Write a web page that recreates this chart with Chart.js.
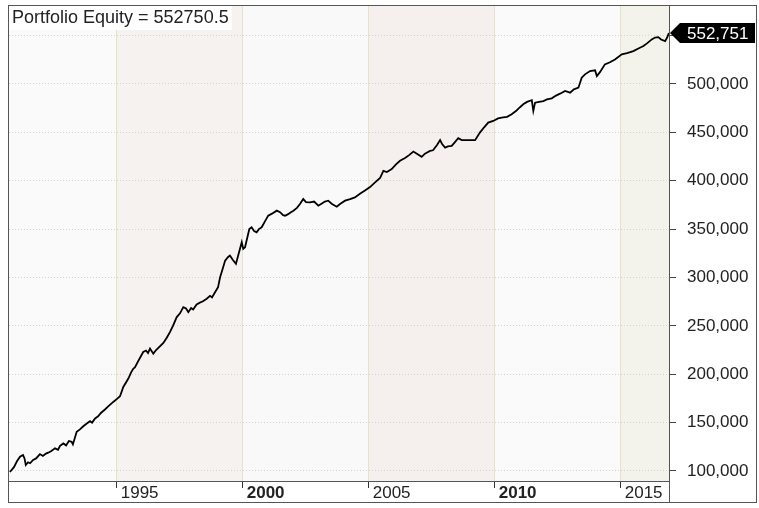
<!DOCTYPE html>
<html>
<head>
<meta charset="utf-8">
<script src="https://cdn.jsdelivr.net/npm/chart.js@4.4.1/dist/chart.umd.min.js"></script>
<style>
  html, body { margin: 0; padding: 0; background: #fff; }
  canvas { display: block; }
</style>
</head>
<body>
<canvas id="equity" width="759" height="508"></canvas>
<script>
// equity curve (decimal year, portfolio value)
const years = [
  1990.79, 1990.95, 1991.07, 1991.19, 1991.31, 1991.37, 1991.42, 1991.51, 1991.59, 1991.71,
  1991.83, 1991.98, 1992.10, 1992.22, 1992.31, 1992.42, 1992.58, 1992.70, 1992.78, 1992.91,
  1993.02, 1993.13, 1993.24, 1993.29, 1993.44, 1993.57, 1993.69, 1993.84, 1993.97, 1994.05,
  1994.17, 1994.29, 1994.40, 1994.56, 1994.68, 1994.89, 1995.04, 1995.16, 1995.29, 1995.49,
  1995.60, 1995.69, 1995.75, 1995.87, 1996.08, 1996.19, 1996.27, 1996.35, 1996.48, 1996.59,
  1996.75, 1996.88, 1997.02, 1997.14, 1997.26, 1997.41, 1997.54, 1997.67, 1997.78, 1997.87,
  1997.98, 1998.06, 1998.20, 1998.33, 1998.45, 1998.60, 1998.73, 1998.81, 1998.93, 1999.05,
  1999.13, 1999.21, 1999.33, 1999.44, 1999.52, 1999.64, 1999.76, 1999.84, 1999.99, 2000.05,
  2000.12, 2000.20, 2000.29, 2000.38, 2000.48, 2000.58, 2000.67, 2000.78, 2000.91, 2001.04,
  2001.19, 2001.38, 2001.51, 2001.63, 2001.71, 2001.83, 2001.94, 2002.04, 2002.18, 2002.30,
  2002.43, 2002.54, 2002.70, 2002.86, 2003.03, 2003.17, 2003.29, 2003.42, 2003.57, 2003.76,
  2003.89, 2004.09, 2004.29, 2004.48, 2004.68, 2004.88, 2005.08, 2005.28, 2005.48, 2005.61,
  2005.75, 2005.94, 2006.11, 2006.27, 2006.47, 2006.63, 2006.80, 2006.94, 2007.13, 2007.26,
  2007.46, 2007.58, 2007.74, 2007.86, 2007.94, 2008.06, 2008.17, 2008.32, 2008.45, 2008.58,
  2008.72, 2008.97, 2009.25, 2009.44, 2009.60, 2009.77, 2009.97, 2010.16, 2010.36, 2010.52,
  2010.70, 2010.87, 2011.03, 2011.16, 2011.31, 2011.50, 2011.56, 2011.63, 2011.79, 2011.96,
  2012.10, 2012.29, 2012.46, 2012.62, 2012.82, 2013.02, 2013.17, 2013.35, 2013.48, 2013.61,
  2013.81, 2014.01, 2014.08, 2014.21, 2014.40, 2014.60, 2014.80, 2015.07, 2015.28, 2015.53,
  2015.71, 2015.93, 2016.07, 2016.26, 2016.39, 2016.52, 2016.63, 2016.79, 2016.87, 2016.94
];
const equity = [
  99000, 104000, 110000, 114700, 116500, 113000, 106200, 109000, 108000, 111500,
  113000, 117500, 115500, 118000, 118900, 120500, 123400, 122000, 126000, 128500,
  126500, 131000, 130200, 127500, 140500, 143000, 146000, 149100, 151500, 150000,
  154300, 156500, 160000, 163600, 166500, 171400, 174500, 177300, 186900, 195600,
  202000, 205900, 207000, 213000, 223000, 224500, 222000, 226500, 221300, 225000,
  229000, 232300, 238000, 243600, 250000, 259100, 263000, 269400, 268000, 264200,
  268500, 267000, 272200, 274000, 275500, 278000, 281000, 279500, 284800, 290000,
  300300, 307000, 317500, 321000, 322700, 318000, 314100, 322000, 336400, 329600,
  331200, 340000, 350200, 351900, 348000, 346700, 350000, 351900, 358000, 363900,
  366000, 369100, 367500, 364500, 363900, 365500, 367500, 369100, 372000, 376000,
  381100, 378000, 377600, 378500, 374200, 376500, 378500, 379400, 376000, 373200,
  376000, 379400, 381000, 382800, 386500, 390000, 393500, 398300, 403000, 410300,
  409000, 412000, 417000, 420600, 423500, 426500, 430200, 428000, 424700, 428000,
  430900, 431500, 437000, 442000, 438000, 434300, 435500, 436100, 440000, 444000,
  442000, 442000, 442000, 449800, 455000, 460100, 461800, 464500, 465500, 466000,
  468700, 472000, 476000, 479000, 481500, 483200, 472200, 480700, 481500, 482400,
  484000, 485200, 488000, 490000, 492800, 491000, 494500, 496200, 506500, 510000,
  513400, 514100, 508200, 512500, 520300, 522500, 525400, 530600, 532000, 534000,
  536500, 539200, 542000, 546100, 548000, 548500, 546000, 544300, 548000, 552750.5
];

const xTicks = [1995, 2000, 2005, 2010, 2015];
const yTicks = [100000, 150000, 200000, 250000, 300000, 350000, 400000, 450000, 500000, 550000];

const titleText = 'Portfolio Equity = 552750.5';
const lastLabel = '552,751';

// alternating 5-year background bands
const bandStarts = [1990, 1995, 2000, 2005, 2010, 2015];
const bandEnds = [1995, 2000, 2005, 2010, 2015, 2020];
const bandColors = ['#fafafa', '#f6f2ef', '#f9f9f9', '#f5f0ed', '#fafafa', '#f4f3eb'];

const FONT = 'Arial, "Liberation Sans", sans-serif';

const backdrop = {
  id: 'backdrop',
  beforeDraw(chart) {
    const {ctx, chartArea: a, scales: {x}} = chart;
    ctx.save();
    ctx.fillStyle = '#fff';
    ctx.fillRect(0, 0, chart.width, chart.height);
    for (let i = 0; i < bandStarts.length; i++) {
      let l = Math.max(a.left, x.getPixelForValue(bandStarts[i]));
      let r = Math.min(a.right, x.getPixelForValue(bandEnds[i]));
      if (r <= l) continue;
      ctx.fillStyle = bandColors[i];
      ctx.fillRect(l, a.top, r - l, a.bottom - a.top);
    }
    ctx.restore();
  },
  afterDraw(chart) {
    const {ctx, chartArea: a, scales: {y}} = chart;
    ctx.save();
    // frames
    ctx.strokeStyle = '#555';
    ctx.lineWidth = 1;
    ctx.strokeRect(8.5, 5.5, 748, 497);
    ctx.beginPath();
    ctx.moveTo(a.right + 0.5, 5.5);
    ctx.lineTo(a.right + 0.5, 502.5);
    ctx.moveTo(8.5, a.bottom + 0.5);
    ctx.lineTo(a.right + 0.5, a.bottom + 0.5);
    ctx.stroke();

    // title box top-left
    ctx.font = '18px ' + FONT;
    const tw = ctx.measureText(titleText).width;
    ctx.fillStyle = '#fff';
    ctx.fillRect(a.left, a.top, tw + 6, 24);
    ctx.fillStyle = '#222';
    ctx.textBaseline = 'middle';
    ctx.textAlign = 'left';
    ctx.fillText(titleText, a.left + 3, a.top + 12);

    // last value badge on the right axis
    const py = Math.round(y.getPixelForValue(equity[equity.length - 1]));
    const tip = a.right + 1;
    ctx.fillStyle = '#000';
    ctx.beginPath();
    ctx.moveTo(tip, py);
    ctx.lineTo(tip + 10, py - 10);
    ctx.lineTo(755, py - 10);
    ctx.lineTo(755, py + 10);
    ctx.lineTo(tip + 10, py + 10);
    ctx.closePath();
    ctx.fill();
    ctx.fillStyle = '#fff';
    ctx.font = '17px ' + FONT;
    ctx.fillText(lastLabel, a.right + 18, py + 1);
    ctx.restore();
  }
};

new Chart(document.getElementById('equity'), {
  type: 'line',
  data: {
    datasets: [{
      data: years.map((yr, i) => ({x: yr, y: equity[i]})),
      borderColor: '#000',
      borderWidth: 1.8,
      pointRadius: 0,
      tension: 0,
      fill: false
    }]
  },
  options: {
    responsive: false,
    devicePixelRatio: 1,
    animation: false,
    layout: {padding: {left: 9, top: 6, right: 2, bottom: 5}},
    plugins: {legend: {display: false}, tooltip: {enabled: false}},
    scales: {
      x: {
        type: 'linear',
        min: 1990.754,
        max: 2016.944,
        afterFit: s => { s.height = 22; s.paddingLeft = 0; s.paddingRight = 0; },
        afterBuildTicks: s => { s.ticks = xTicks.map(v => ({value: v})); },
        border: {display: false},
        grid: {color: '#e4e2cc', tickColor: '#333', tickLength: 7},
        ticks: {
          maxRotation: 0,
          autoSkip: false,
          align: 'start',
          padding: -5,
          color: '#222',
          callback: v => ' ' + v,
          font: c => ({family: FONT, size: 17, weight: c.tick && c.tick.value % 10 === 0 ? 'bold' : 'normal'})
        }
      },
      y: {
        position: 'right',
        min: 89664,
        max: 580620,
        afterFit: s => { s.width = 88; s.paddingTop = 0; s.paddingBottom = 0; },
        afterBuildTicks: s => { s.ticks = yTicks.map(v => ({value: v})); },
        border: {display: false, dash: [1, 2]},
        grid: {color: '#d2d2d2', tickColor: '#444', tickLength: 7},
        ticks: {
          autoSkip: false,
          padding: 11,
          color: '#222',
          font: {family: FONT, size: 17},
          callback: v => v >= 550000 ? '' : v.toLocaleString('en-US')
        }
      }
    }
  },
  plugins: [backdrop]
});
</script>
</body>
</html>
